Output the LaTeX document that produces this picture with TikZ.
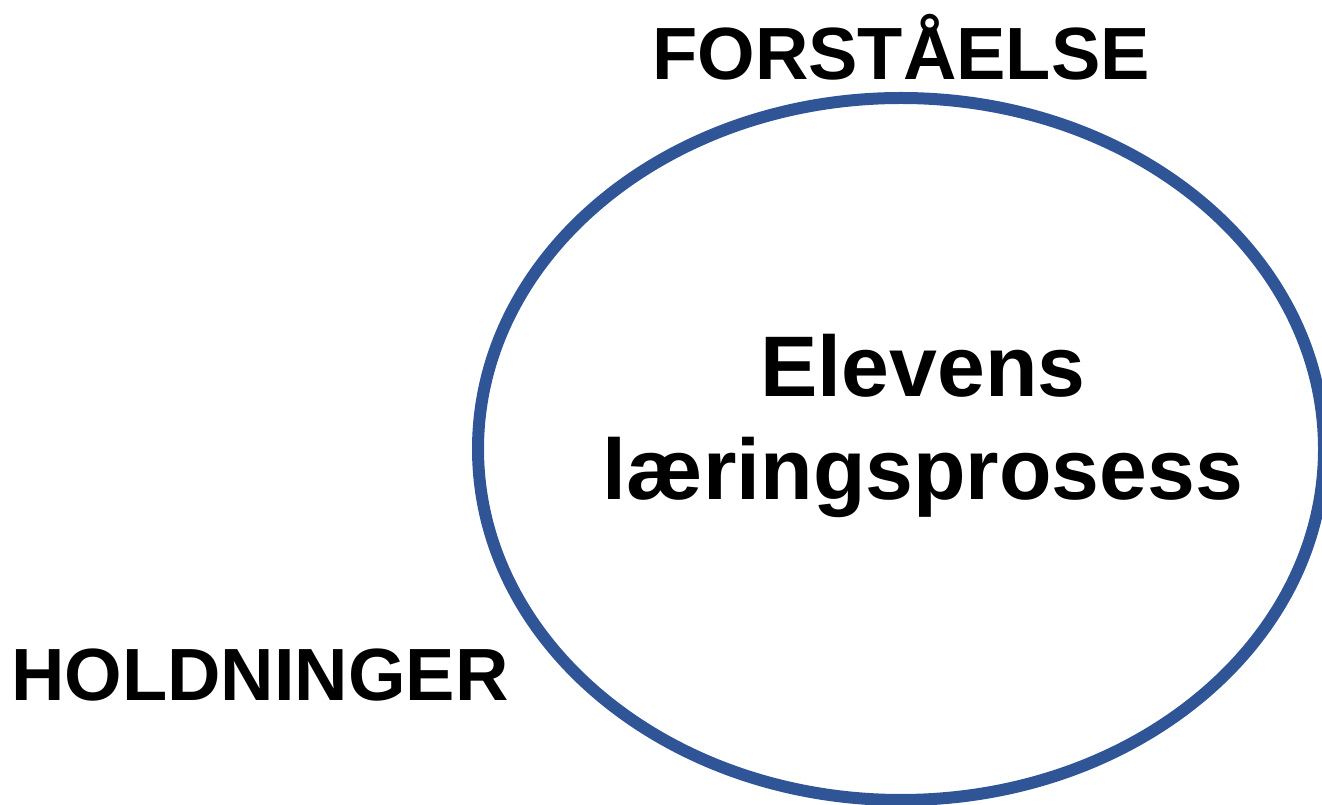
\documentclass[tikz,border=0pt]{standalone}
\usepackage{fontspec}
\setmainfont{Liberation Sans}
\usetikzlibrary{positioning}
\usetikzlibrary{shapes.geometric}
\definecolor{ringblue}{RGB}{47,85,151}

\begin{document}
\begin{tikzpicture}[x=1pt,y=1pt,font=\bfseries,
	bigtxt/.style={font=\fontsize{74}{90}\selectfont\bfseries,inner sep=0pt,outer sep=0pt},
	midtxt/.style={font=\fontsize{86}{103}\selectfont\bfseries,inner sep=0pt,outer sep=0pt}]
	\useasboundingbox (0,0) rectangle (1322,805);
	\node [ellipse,minimum width=846pt,minimum height=702pt,inner sep=0pt,draw=ringblue,line width=12pt] at (901,356) (laering_ring) {};

	\node [bigtxt,anchor=base] at (901,725) (forstaaelse_txt) {FORSTÅELSE};
	\node [bigtxt,anchor=base] at (260,104) (holdninger_txt) {HOLDNINGER};
	\node [midtxt,anchor=base] at (923,408) (elev_txt) {Elevens};
	\node [midtxt,anchor=base] at (923,305) (prosess_txt) {læringsprosess};
\end{tikzpicture}
\end{document}
